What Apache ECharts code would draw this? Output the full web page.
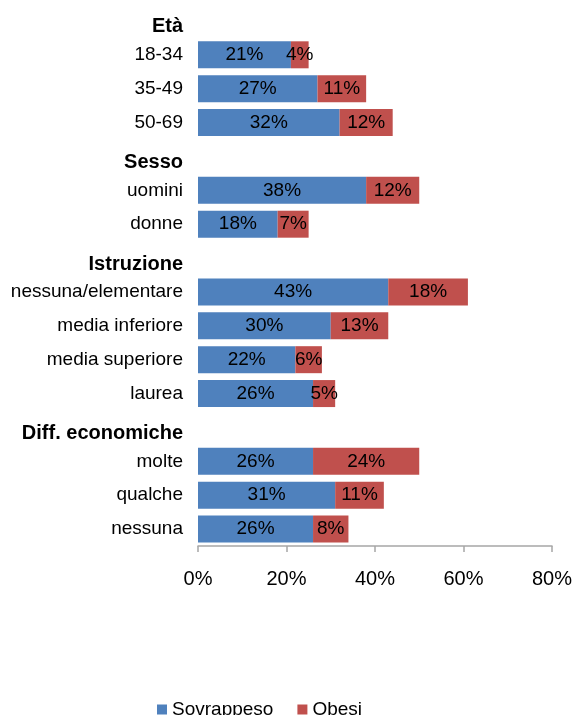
<!DOCTYPE html>
<html>
<head>
<meta charset="utf-8">
<script src="https://cdn.jsdelivr.net/npm/echarts@6/dist/echarts.min.js"></script>
<style>
  html, body { margin: 0; padding: 0; background: #fff; }
  #chart { width: 575px; height: 715px; }
</style>
</head>
<body>
<div id="chart"></div>
<script>
// Groups of categories, each introduced by a bold heading row
const groupTitles = ['Età', 'Sesso', 'Istruzione', 'Diff. economiche'];
const groupItems = [
  ['18-34', '35-49', '50-69'],
  ['uomini', 'donne'],
  ['nessuna/elementare', 'media inferiore', 'media superiore', 'laurea'],
  ['molte', 'qualche', 'nessuna']
];
// Percentages per group, in the same order as groupItems
const sovrappeso = [
  [21, 27, 32],
  [38, 18],
  [43, 30, 22, 26],
  [26, 31, 26]
];
const obesi = [
  [4, 11, 12],
  [12, 7],
  [18, 13, 6, 5],
  [24, 11, 8]
];
const xTicks = [0, 20, 40, 60, 80];

// Flatten into one category list; heading rows carry no value
const categories = [];
const headerIdx = new Set();
const sovData = [];
const obData = [];
groupTitles.forEach((t, g) => {
  headerIdx.add(categories.length);
  categories.push(t);
  sovData.push(null);
  obData.push(null);
  groupItems[g].forEach((name, i) => {
    categories.push(name);
    sovData.push(sovrappeso[g][i]);
    obData.push(obesi[g][i]);
  });
});

const FONT = '"Liberation Sans", Arial, sans-serif';
const chart = echarts.init(document.getElementById('chart'), null, { renderer: 'canvas' });

const labelStyle = {
  show: true,
  position: 'inside',
  color: '#000',
  fontFamily: FONT,
  fontSize: 19,
  formatter: p => p.value + '%'
};

chart.setOption({
  animation: false,
  textStyle: { fontFamily: FONT },
  grid: { left: 198, right: 23, top: 4, bottom: 169 },
  xAxis: {
    type: 'value',
    min: xTicks[0],
    max: xTicks[xTicks.length - 1],
    interval: 20,
    splitLine: { show: false },
    axisLine: { show: true, lineStyle: { color: '#a6a6a6', width: 1.5 } },
    axisTick: { show: true, length: 6, lineStyle: { color: '#a6a6a6', width: 1.5 } },
    axisLabel: {
      margin: 23,
      color: '#000',
      fontFamily: FONT,
      fontSize: 20,
      formatter: v => v + '%'
    }
  },
  yAxis: {
    type: 'category',
    data: categories,
    inverse: true,
    axisLine: { show: false },
    axisTick: { show: false },
    axisLabel: {
      margin: 15,
      color: '#000',
      fontFamily: FONT,
      fontSize: 19,
      formatter: (v, i) => headerIdx.has(i) ? '{h|' + v + '}' : v,
      rich: {
        h: {
          fontFamily: FONT,
          fontWeight: 'bold',
          fontSize: 20,
          color: '#000',
          padding: [12, 0, 0, 0]
        }
      }
    }
  },
  legend: {
    data: ['Sovrappeso', 'Obesi'],
    left: 152,
    top: 695,
    itemWidth: 10,
    itemHeight: 10,
    itemGap: 24,
    icon: 'rect',
    textStyle: { fontFamily: FONT, fontSize: 19, color: '#000' }
  },
  series: [
    {
      name: 'Sovrappeso',
      type: 'bar',
      stack: 'tot',
      barWidth: 27,
      data: sovData,
      itemStyle: { color: '#4F81BD' },
      label: labelStyle
    },
    {
      name: 'Obesi',
      type: 'bar',
      stack: 'tot',
      barWidth: 27,
      data: obData,
      itemStyle: { color: '#C0504D' },
      label: labelStyle
    }
  ]
});
</script>
</body>
</html>
